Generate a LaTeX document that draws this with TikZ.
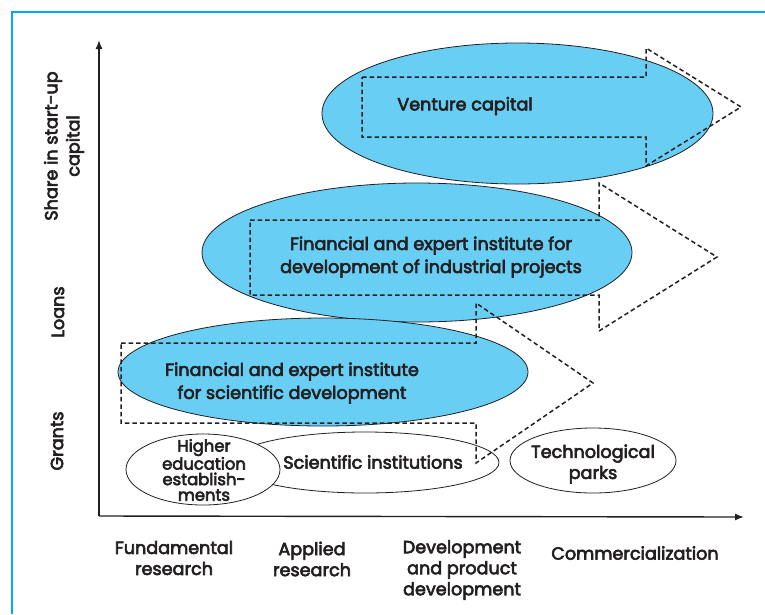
\documentclass[tikz,border=0pt]{standalone}
\usepackage{fontspec}
\setmainfont{Poppins}[BoldFont=Poppins, BoldFeatures={FakeBold=3.5}]
\usetikzlibrary{arrows.meta,shapes.geometric}
\definecolor{fillcyan}{RGB}{104,206,244}
\definecolor{framecyan}{RGB}{0,174,239}
\definecolor{ink}{RGB}{35,31,32}
\begin{document}
\begin{tikzpicture}[x=1pt,y=-1pt,
  blob/.style={ellipse, draw=ink, line width=0.8pt, fill=fillcyan, inner sep=0pt},
  plain/.style={ellipse, draw=ink, line width=0.8pt, fill=white, inner sep=0pt},
  flowarrow/.style={draw=ink, line width=1.5pt, dash pattern=on 4.5pt off 3pt, line join=miter},
  axis/.style={draw=ink, line width=1.4pt, -{Latex[length=9pt,width=7pt]}},
  lbl/.style={text=ink, font=\bfseries\fontsize{17.6}{23}\selectfont, align=center, inner sep=0pt},
  ax/.style={text=ink, font=\bfseries\fontsize{17.6}{21}\selectfont, align=center, inner sep=0pt}]
\useasboundingbox (0,0) rectangle (765,614);
% frame
\draw[framecyan, line width=2.5pt] (12,614) -- (12,12) -- (765,12);
% ellipses
\node[blob, minimum width=391pt, minimum height=141pt] (vc) at (517.5,113.5) {};
\node[blob, minimum width=430pt, minimum height=139pt] (fei) at (417,252.5) {};
\node[blob, minimum width=410pt, minimum height=108pt] (fes) at (323,372) {};
\node[plain, minimum width=268pt, minimum height=61pt] (sci) at (365,462.5) {};
\node[plain, minimum width=154pt, minimum height=71pt] (hee) at (203,469.5) {};
\node[plain, minimum width=166pt, minimum height=65pt] (tp) at (593,460.5) {};
% dashed block arrows
\draw[flowarrow] (362,77) -- (646,77) -- (646,48) -- (741,107) -- (646,166) -- (646,137) -- (362,137) -- cycle;
\draw[flowarrow] (250,220) -- (599,220) -- (599,183) -- (717,257) -- (599,331) -- (599,295) -- (250,295) -- cycle;
\draw[flowarrow] (121,343) -- (476,343) -- (476,303) -- (593,383) -- (476,463) -- (476,423) -- (121,423) -- cycle;
% texts
\node[lbl] (tvc) at (465,106) {Venture capital};
\node[lbl] (tfei) at (431,257) {Financial and expert institute for\\development of industrial projects};
\node[lbl] (tfes) at (292,383) {Financial and expert institute\\for scientific development};
\node[lbl] (tsci) at (373,462) {Scientific institutions};
\node[lbl, font=\bfseries\fontsize{16.4}{15.6}\selectfont] (thee) at (204,470) {Higher\\education\\establish-\\ments};
\node[lbl, font=\bfseries\fontsize{17.6}{21}\selectfont] (ttp) at (593,464) {Technological\\parks};
% axes
\coordinate (o) at (99,516);
\coordinate (ytip) at (99,40);
\coordinate (xtip) at (744,517);
\draw[axis] (o) -- (ytip);
\draw[axis] (o) -- (xtip);
% axis labels
\node[ax, rotate=90, font=\bfseries\fontsize{17.6}{22}\selectfont] (ys) at (64,146) {Share in start-up\\capital};
\node[ax, rotate=90] (yl) at (58,312) {Loans};
\node[ax, rotate=90] (yg) at (57,441) {Grants};
\node[ax] (xf) at (174,558) {Fundamental\\research};
\node[ax] (xa) at (312,559) {Applied\\research};
\node[ax] (xd) at (462,570) {Development\\and product\\development};
\node[ax] (xc) at (635,553) {Commercialization};
\end{tikzpicture}
\end{document}
